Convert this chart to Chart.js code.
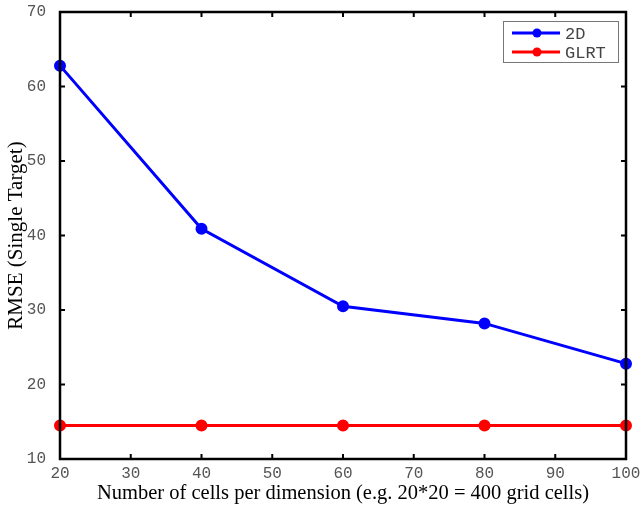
<!DOCTYPE html>
<html>
<head>
<meta charset="utf-8">
<script src="https://cdn.jsdelivr.net/npm/chart.js@4"></script>
<style>
  html, body { margin: 0; padding: 0; background: #fff; }
  #wrap { width: 642px; height: 506px; }
</style>
</head>
<body>
<div id="wrap"><canvas id="chartRMSE" width="642" height="506"></canvas></div>
<script>
// ===== DADOS =====
const CELLS = [20, 40, 60, 80, 100];
const RMSE_2D = [62.8, 40.9, 30.5, 28.2, 22.8];
const RMSE_GLRT = [14.5, 14.5, 14.5, 14.5, 14.5];
const X_TICKS = [20, 30, 40, 50, 60, 70, 80, 90, 100];
const Y_TICKS = [10, 20, 30, 40, 50, 60, 70];

const MONO = '"Liberation Mono", "DejaVu Sans Mono", monospace';
const SERIF = '"Liberation Serif", "DejaVu Serif", serif';

// moldura + ticks para dentro (estilo MATLAB)
const framePlugin = {
  id: 'frame',
  afterDraw(chart) {
    const c = chart.ctx, a = chart.chartArea;
    const xs = chart.scales.x, ys = chart.scales.y;
    c.save();
    c.strokeStyle = '#000';
    c.lineWidth = 2.5;
    c.strokeRect(a.left, a.top, a.right - a.left, a.bottom - a.top);
    c.lineWidth = 2;
    c.beginPath();
    X_TICKS.forEach(v => {
      const x = xs.getPixelForValue(v);
      c.moveTo(x, a.bottom); c.lineTo(x, a.bottom - 5);
      c.moveTo(x, a.top); c.lineTo(x, a.top + 5);
    });
    Y_TICKS.forEach(v => {
      const y = ys.getPixelForValue(v);
      c.moveTo(a.left, y); c.lineTo(a.left + 5, y);
      c.moveTo(a.right, y); c.lineTo(a.right - 5, y);
    });
    c.stroke();

    // legenda
    const bx = 503, by = 21, bw = 115, bh = 41;
    c.fillStyle = '#fff';
    c.fillRect(bx, by, bw, bh);
    c.strokeStyle = '#777';
    c.lineWidth = 1;
    c.strokeRect(bx + 0.5, by + 0.5, bw, bh);
    c.font = '17px ' + MONO;
    c.textBaseline = 'middle';
    chart.data.datasets.forEach((ds, i) => {
      const y = by + 12 + i * 19;
      c.strokeStyle = ds.borderColor;
      c.lineWidth = 3;
      c.beginPath(); c.moveTo(bx + 9, y); c.lineTo(bx + 57, y); c.stroke();
      c.fillStyle = ds.borderColor;
      c.beginPath(); c.arc(bx + 34, y, 4.5, 0, Math.PI * 2); c.fill();
      c.fillStyle = '#444';
      c.fillText(ds.label, bx + 62, y + 1);
    });
    c.restore();
  }
};

new Chart(document.getElementById('chartRMSE'), {
  type: 'line',
  data: {
    datasets: [
      {
        label: '2D',
        data: CELLS.map((x, i) => ({ x, y: RMSE_2D[i] })),
        borderColor: '#0000ff',
        backgroundColor: '#0000ff',
        borderWidth: 3,
        pointRadius: 4.5,
        tension: 0
      },
      {
        label: 'GLRT',
        data: CELLS.map((x, i) => ({ x, y: RMSE_GLRT[i] })),
        borderColor: '#ff0000',
        backgroundColor: '#ff0000',
        borderWidth: 3,
        pointRadius: 4.5,
        tension: 0
      }
    ]
  },
  options: {
    responsive: false,
    animation: false,
    clip: false,
    layout: { padding: { top: 12, right: 16, left: 4, bottom: 0 } },
    plugins: {
      legend: { display: false },
      tooltip: { enabled: false }
    },
    scales: {
      x: {
        type: 'linear',
        min: 20, max: 100,
        afterBuildTicks: s => { s.ticks = X_TICKS.map(v => ({ value: v })); },
        afterFit: s => { s.height = 47; s.paddingLeft = 0; s.paddingRight = 0; },
        grid: { display: false },
        border: { display: false },
        ticks: { color: '#555', font: { family: MONO, size: 16 }, padding: -3, maxRotation: 0 },
        title: {
          display: true,
          text: 'Number of cells per dimension (e.g. 20*20 = 400 grid cells)',
          color: '#000',
          font: { family: SERIF, size: 20.5 },
          padding: { top: 0, bottom: 0 }
        }
      },
      y: {
        min: 10, max: 70,
        afterBuildTicks: s => { s.ticks = Y_TICKS.map(v => ({ value: v })); },
        afterFit: s => { s.width = 56; s.paddingTop = 0; s.paddingBottom = 0; },
        grid: { display: false },
        border: { display: false },
        ticks: { color: '#555', font: { family: MONO, size: 16 }, padding: 6 },
        title: {
          display: true,
          text: 'RMSE (Single Target)',
          color: '#000',
          font: { family: SERIF, size: 21 },
          padding: { top: 0, bottom: 0 }
        }
      }
    }
  },
  plugins: [framePlugin]
});
</script>
</body>
</html>
